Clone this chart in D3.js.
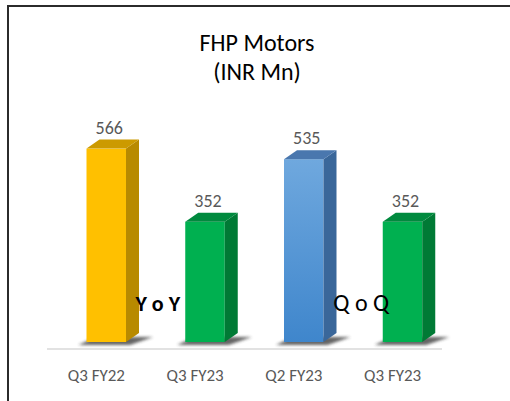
<!DOCTYPE html>
<html>
<head>
<meta charset="utf-8">
<script src="https://cdn.jsdelivr.net/npm/d3@7"></script>
<style>
  body { margin: 0; background: #fff; }
  text { font-family: Carlito, Calibri, Lato, "Open Sans", sans-serif; }
</style>
</head>
<body>
<svg class="chart"></svg>
<script>
var categories = ['Q3 FY22', 'Q3 FY23', 'Q2 FY23', 'Q3 FY23']
var values = [566, 352, 535, 352]
var fronts = ['#FFC000', '#00B050', '#5B9BD5', '#00B050']
var sides = ['#B88A00', '#007A35', '#3A679A', '#007A35']
var tops = ['#CC9A00', '#008A3E', '#4A77AE', '#008A3E']
var notes = [{text: 'Y o Y', after: 0, bold: true}, {text: 'Q o Q', after: 2, bold: false}]

var width = 510, height = 401;
var base = 342;

var svg = d3.select(".chart")
    .attr("width", width)
    .attr("height", height);

var defs = svg.append("defs");
defs.append("filter").attr("id", "blur")
    .attr("x", "-20%").attr("y", "-50%").attr("width", "140%").attr("height", "200%")
  .append("feGaussianBlur").attr("stdDeviation", 1.6);

var blueGrad = defs.append("linearGradient").attr("id", "blueFront")
    .attr("x1", 0).attr("y1", 0).attr("x2", 0).attr("y2", 1);
blueGrad.append("stop").attr("offset", "0%").attr("stop-color", "#6FA8DE");
blueGrad.append("stop").attr("offset", "100%").attr("stop-color", "#3F86CC");

// frame
svg.append("path")
    .attr("d", "M8,401V6H510")
    .attr("fill", "none")
    .attr("stroke", "#2b2b2b")
    .attr("stroke-width", 2);

var idx = d3.range(categories.length);

var x = d3.scaleBand()
    .domain(idx)
    .range([47, 442]);

var y = d3.scaleLinear()
    .domain([0, 600])
    .range([base, base - 205]);

var bw = x.bandwidth() * 0.4,
    off = x.bandwidth() * 0.1,
    dx = 13, dy = 9;

// title
svg.append("text")
    .attr("x", 257).attr("y", 51)
    .attr("text-anchor", "middle")
    .attr("font-size", 24)
    .attr("fill", "#000")
    .text("FHP Motors");
svg.append("text")
    .attr("x", 257).attr("y", 80)
    .attr("text-anchor", "middle")
    .attr("font-size", 24)
    .attr("fill", "#000")
    .text("(INR Mn)");

// baseline
svg.append("line")
    .attr("x1", x.range()[0]).attr("x2", x.range()[1])
    .attr("y1", 349).attr("y2", 349)
    .attr("stroke", "#d9d9d9")
    .attr("stroke-width", 1.5);

var bar = svg.selectAll("g.bar")
    .data(idx)
  .enter().append("g")
    .attr("class", "bar");

function x0(i) { return x(i) + x.bandwidth() / 2 - bw / 2 + off; }

bar.append("polygon")
    .attr("points", function(i) {
      var l = x0(i);
      return [[l - 8, base + 3], [l + bw + 4, base + 3], [l + bw + dx + 14, base - 5], [l + dx - 4, base - 5]].join(" ");
    })
    .attr("fill", "#333")
    .attr("opacity", 0.75)
    .attr("filter", "url(#blur)");

bar.append("rect")
    .attr("x", function(i) { return x0(i); })
    .attr("y", function(i) { return y(values[i]); })
    .attr("width", bw)
    .attr("height", function(i) { return base - y(values[i]); })
    .attr("fill", function(i) { return i == 2 ? "url(#blueFront)" : fronts[i]; });

bar.append("polygon")
    .attr("points", function(i) {
      var l = x0(i) + bw, t = y(values[i]);
      return [[l, t], [l + dx, t - dy], [l + dx, base - dy], [l, base]].join(" ");
    })
    .attr("fill", function(i) { return sides[i]; });

bar.append("polygon")
    .attr("points", function(i) {
      var l = x0(i), t = y(values[i]);
      return [[l, t], [l + dx, t - dy], [l + bw + dx, t - dy], [l + bw, t]].join(" ");
    })
    .attr("fill", function(i) { return tops[i]; });

bar.append("text")
    .attr("x", function(i) { return x0(i) + bw / 2 + 3; })
    .attr("y", function(i) { return y(values[i]) - dy - 6; })
    .attr("text-anchor", "middle")
    .attr("font-size", 18)
    .attr("fill", "#595959")
    .text(function(i) { return values[i]; });

// category labels
svg.selectAll("text.cat")
    .data(idx)
  .enter().append("text")
    .attr("class", "cat")
    .attr("x", function(i) { return x(i) + x.bandwidth() / 2; })
    .attr("y", 381)
    .attr("text-anchor", "middle")
    .attr("font-size", 17)
    .attr("fill", "#595959")
    .text(function(i) { return categories[i]; });

// comparison notes
svg.selectAll("text.note")
    .data(notes)
  .enter().append("text")
    .attr("class", "note")
    .attr("x", function(d) { return x(d.after) + x.bandwidth() + (d.bold ? 12 : 18); })
    .attr("y", 311)
    .attr("text-anchor", "middle")
    .attr("font-size", function(d) { return d.bold ? 22 : 24; })
    .attr("font-weight", function(d) { return d.bold ? "bold" : "normal"; })
    .attr("fill", "#000")
    .text(function(d) { return d.text; });
</script>
</body>
</html>
